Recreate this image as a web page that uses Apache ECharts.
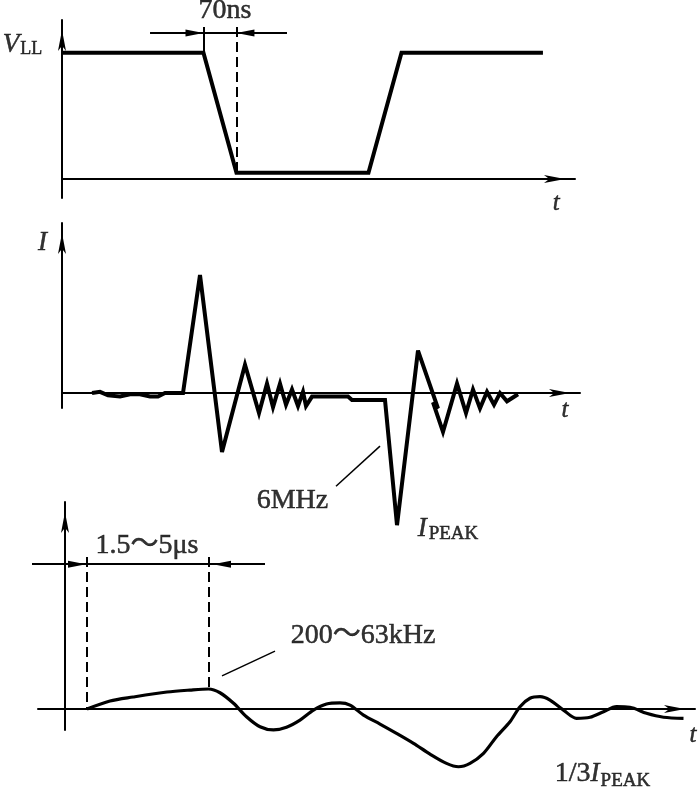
<!DOCTYPE html>
<html>
<head>
<meta charset="utf-8">
<script src="https://cdn.jsdelivr.net/npm/echarts@6/dist/echarts.min.js"></script>
<style>html,body{margin:0;padding:0;background:#fff}#c{width:699px;height:794px}</style>
</head>
<body>
<div id="c"></div>
<script>
// ---------- DATA ----------
// Panel 1: supply voltage V_LL (time in ns, level relative to V_LL)
const vTime  = [0, 300, 370, 650, 720, 1020];
const vLevel = [1, 1, 0.05, 0.05, 1, 1];

// Panel 2: current I (relative time units, amplitude in % of first peak)
const iTime  = [6, 7.6, 9.2, 11.6, 13.6, 15.6, 17.6, 19.2, 20.6, 24.2,
                27.6, 32, 36.6, 39.4, 41, 42.2, 43.6, 44.8, 46, 47.2,
                48.2, 48.8, 50, 57.2, 58, 64.6, 67, 71.2, 75.2, 74.2,
                76.2, 79, 80.8, 82.2, 83.6, 85, 86.4, 87.6, 89, 91.2];
const iValue = [0, 1, -2, -3, -1, -1, -3, -3, 0, 0,
                100, -50, 24, -17, 8, -12, 8, -10, 3, -11,
                1, -11, -3, -3, -6, -6, -112, 36, -13, -8,
                -33, 8, -17, 3, -13, 1, -10, 0, -7, -1];

// Panel 3: slow ringing (relative time units, amplitude in % of I_PEAK)
const aTime  = [4.4, 9, 13.6, 20.4, 25, 28.7, 31, 33.7, 36.3, 39,
                41.7, 44.3, 47, 49.7, 52.3, 55, 57, 59.7, 63, 66.3,
                69.7, 73, 76.3, 78.7, 81, 83.7, 86.3, 89, 91, 93,
                95, 97, 99.7, 102.3, 105, 107.7, 110.3, 113, 116.3, 119.7,
                123.7];
const aValue = [0, 4.5, 6.7, 9.5, 10.6, 11.2, 9.1, 3.2, -4.3, -9.9,
                -11.7, -10.2, -6.2, -0.6, 2.8, 3.4, 2.2, -3.4, -8.4, -13.6,
                -19.2, -25.2, -30.4, -32.3, -30.4, -24.8, -15.5, -7.1, 1.3, 6,
                6.9, 5, -0.6, -5.2, -4.6, -1.5, 1.3, 1, -2.4, -4.6,
                -5.2];

// Annotation texts
const textPulse   = '70ns';
const textV       = 'V';
const textVSub    = 'LL';
const textI       = 'I';
const textT       = 't';
const text6MHz    = '6MHz';
const textPeakSub = 'PEAK';
const textWidth   = '1.5～5μs';
const textRing    = '200～63kHz';
const textThird   = '1/3';

// ---------- CHART ----------
const SERIF = '"Liberation Serif", "Times New Roman", "Noto Sans CJK SC", serif';
const INK = {color: '#000', textBorderColor: '#000', textBorderWidth: 0.5};
const RICH = {
  r:  Object.assign({fontFamily: SERIF, fontSize: 28}, INK),
  i:  Object.assign({fontFamily: SERIF, fontSize: 27, fontStyle: 'italic'}, INK),
  t:  Object.assign({fontFamily: SERIF, fontSize: 25, fontStyle: 'italic'}, INK),
  sl: Object.assign({fontFamily: SERIF, fontSize: 18, padding: [8, 0, 0, 1]}, INK),
  sp: Object.assign({fontFamily: SERIF, fontSize: 19, padding: [12, 0, 0, 2]}, INK),
  sq: Object.assign({fontFamily: SERIF, fontSize: 19, padding: [15, 0, 0, 1]}, INK)
};

function xAx(g, min, max) {
  return {type: 'value', gridIndex: g, min: min, max: max,
    axisLine: {onZero: true, lineStyle: {color: '#000', width: 2},
      symbol: ['none', 'arrow'], symbolSize: [6, 21], symbolOffset: [0, -10]},
    axisTick: {show: false}, axisLabel: {show: false}, splitLine: {show: false}};
}
function yAx(g, min, max) { return xAx(g, min, max); }

function zip(a, b) { return a.map((v, k) => [v, b[k]]); }

function signal(g, data, width, smooth) {
  return {type: 'line', xAxisIndex: g, yAxisIndex: g, data: data, symbol: 'none',
    clip: false, smooth: smooth, silent: true,
    lineStyle: {color: '#000', width: width, join: 'miter', miterLimit: 4}};
}
function plainLines(g, items) {
  return {type: 'lines', coordinateSystem: 'cartesian2d', xAxisIndex: g, yAxisIndex: g,
    clip: false, silent: true, symbol: ['none', 'none'],
    lineStyle: {color: '#000', width: 2, opacity: 1, curveness: 0},
    data: items.map(it => ({coords: it[0], lineStyle: it[1] || {}}))};
}
function arrowLines(g, items) {
  return {type: 'lines', coordinateSystem: 'cartesian2d', xAxisIndex: g, yAxisIndex: g,
    clip: false, silent: true, symbol: ['none', 'triangle'], symbolSize: [[7, 18], [7, 18]],
    lineStyle: {color: '#000', width: 2, opacity: 1, curveness: 0},
    data: items.map(c => ({coords: c}))};
}
function labels(g, items) {
  return {type: 'scatter', xAxisIndex: g, yAxisIndex: g, clip: false, silent: true,
    symbolSize: 1, itemStyle: {color: 'rgba(0,0,0,0)'}, z: 10,
    data: items.map(d => ({value: [d[0], d[1]], name: d[2]})),
    label: {show: true, position: 'inside', formatter: p => p.name, rich: RICH, color: '#000'}};
}
const DASH = {type: [10, 5], width: 2};
const THIN = {width: 1.5};

const option = {
  backgroundColor: '#fff',
  animation: false,
  grid: [
    {left: 62, top: 20, width: 513, height: 178},
    {left: 62, top: 223, width: 518, height: 185},
    {left: 38, top: 502, width: 657, height: 228}
  ],
  xAxis: [xAx(0, 0, 1088), xAx(1, 0, 103.6), xAx(2, -5.4, 126)],
  yAxis: [yAx(0, -0.15, 1.26), yAx(1, -12.7, 144.1), yAx(2, -11.74, 115.8)],
  series: [
    signal(0, zip(vTime, vLevel), 4, false),
    plainLines(0, [
      [[[187, 1.157], [477, 1.157]]],
      [[[300, 1.204], [300, 1.0]]],
      [[[370, 1.204], [370, 0.05]], DASH]
    ]),
    arrowLines(0, [[[187, 1.157], [281, 1.157]], [[477, 1.157], [389, 1.157]]]),
    labels(0, [
      [345.8, 1.331, '{r|' + textPulse + '}'],
      [-84, 1.06, '{i|' + textV + '}{sl|' + textVSub + '}'],
      [1048, -0.19, '{t|' + textT + '}']
    ]),

    signal(1, zip(iTime, iValue), 4, false),
    plainLines(1, [[[[54.8, -79], [63.6, -45]], THIN]]),
    labels(1, [
      [-3.9, 127.5, '{i|' + textI + '}'],
      [46.1, -91.5, '{r|' + text6MHz + '}'],
      [77.2, -114.8, '{i|' + textI + '}{sp|' + textPeakSub + '}'],
      [100.6, -14.4, '{t|' + textT + '}']
    ]),

    signal(2, zip(aTime, aValue), 3.2, 0.3),
    plainLines(2, [
      [[[-6.6, 81], [40, 81]]],
      [[[4.4, 85], [4.4, 0]], DASH],
      [[[28.8, 85], [28.8, 11.2]], DASH],
      [[[31.4, 18.5], [42, 32.4]], THIN]
    ]),
    arrowLines(2, [[[-6.6, 81], [2.4, 81]], [[40, 81], [31.4, 81]]]),
    labels(2, [
      [16.4, 91.2, '{r|' + textWidth + '}'],
      [59.6, 40.8, '{r|' + textRing + '}'],
      [125.6, -14.5, '{t|' + textT + '}'],
      [107.5, -36.1, '{r|' + textThird + '}{i|' + textI + '}{sq|' + textPeakSub + '}']
    ])
  ]
};
const chart = echarts.init(document.getElementById('c'));
chart.setOption(option);
</script>
</body>
</html>
